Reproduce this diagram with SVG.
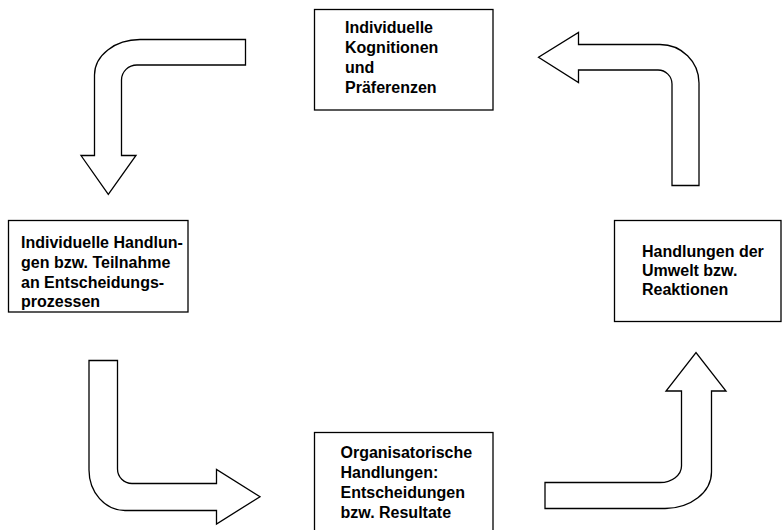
<svg xmlns="http://www.w3.org/2000/svg" width="782" height="530" viewBox="0 0 782 530">
  <style>
    .box { fill: #ffffff; stroke: #000000; stroke-width: 1.3; }
    .arrow { fill: #ffffff; stroke: #000000; stroke-width: 1.3; stroke-linejoin: miter; }
    .lbl { font-family: "Liberation Sans", Arial, sans-serif; font-size: 16px; font-weight: bold; fill: #000000; }
  </style>
  <rect width="782" height="530" fill="#ffffff"/>

  <!-- Block arrows forming the cycle -->
  <g id="connectors">
    <!-- top-left: from the top box down to the left box -->
    <path class="arrow" d="M245.5,39.5 H140 A45.5,35.5 0 0 0 94.5,75 V155.5 H81 L108.3,194.3 L136,155.5 H121.5 V80 A15.5,15 0 0 1 137,65 H245.5 Z"/>
    <!-- bottom-left: from the left box to the bottom box -->
    <path class="arrow" d="M89,360.5 V470 A36,40.5 0 0 0 125,510.5 H216.5 V524 L260,496.7 L216.5,469.5 V483.5 H132 A14.5,14.5 0 0 1 117.5,469 V360.5 Z"/>
    <!-- bottom-right: from the bottom box up to the right box -->
    <path class="arrow" d="M545,482.5 H660 A21.5,16.5 0 0 0 681.5,466 V391 H666 L696,352.5 L726,391 H711.5 V472 A46.5,36.5 0 0 1 665,508.5 H545 Z"/>
    <!-- top-right: from the right box back to the top box -->
    <path class="arrow" d="M672,185.5 V84 A14,14 0 0 0 658,70 H578.5 V82.5 L538.5,57.3 L578.5,32.5 V44.5 H660 A39,38.5 0 0 1 699,83 V185.5 Z"/>
  </g>

  <g id="node-kognitionen">
    <rect class="box" x="314.5" y="9.5" width="178.5" height="100.5"/>
    <text class="lbl" x="345" y="33">Individuelle</text>
    <text class="lbl" x="345" y="53">Kognitionen</text>
    <text class="lbl" x="345" y="73">und</text>
    <text class="lbl" x="345" y="93">Präferenzen</text>
  </g>

  <g id="node-individuelle-handlungen">
    <rect class="box" x="8.5" y="220.5" width="179.5" height="91.5"/>
    <text class="lbl" x="21" y="248">Individuelle Handlun-</text>
    <text class="lbl" x="21" y="268">gen bzw. Teilnahme</text>
    <text class="lbl" x="21" y="288">an Entscheidungs-</text>
    <text class="lbl" x="21" y="307">prozessen</text>
  </g>

  <g id="node-umwelt">
    <rect class="box" x="614.5" y="220.5" width="166.5" height="101"/>
    <text class="lbl" x="642" y="257">Handlungen der</text>
    <text class="lbl" x="642" y="276">Umwelt bzw.</text>
    <text class="lbl" x="642" y="295">Reaktionen</text>
  </g>

  <g id="node-organisatorische">
    <rect class="box" x="314.5" y="432.5" width="178.5" height="110"/>
    <text class="lbl" x="340.5" y="458">Organisatorische</text>
    <text class="lbl" x="340.5" y="478">Handlungen:</text>
    <text class="lbl" x="340.5" y="498">Entscheidungen</text>
    <text class="lbl" x="340.5" y="518">bzw. Resultate</text>
  </g>
</svg>
